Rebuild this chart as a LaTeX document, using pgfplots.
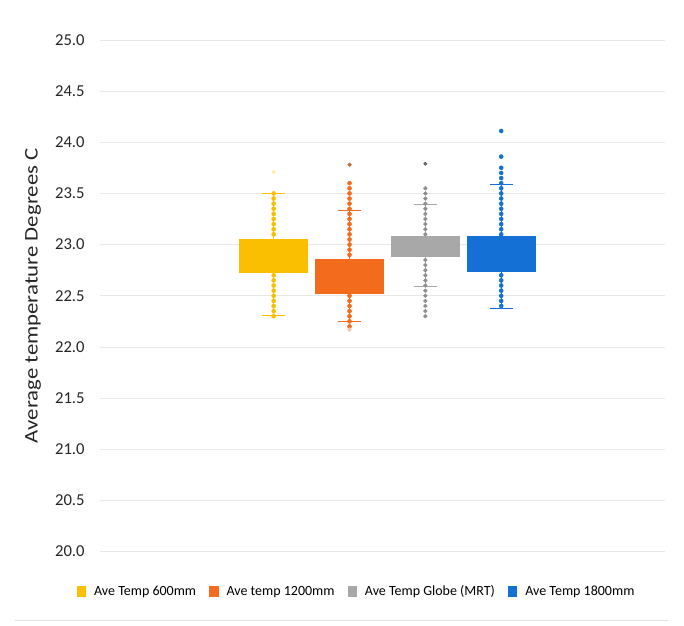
\documentclass[border=0pt]{standalone}
\usepackage{pgfplots}
\pgfplotsset{compat=1.18}
\usepgfplotslibrary{statistics}
\usepackage{fontspec}
\setmainfont{Carlito}
\newfontfamily\widefont[FakeStretch=1.18]{Carlito}
\definecolor{cY}{HTML}{FAC000}
\definecolor{cO}{HTML}{F36C1E}
\definecolor{cG}{HTML}{A8A8A8}
\definecolor{cB}{HTML}{1570D6}
\begin{document}
\begin{tikzpicture}
\begin{axis}[
  scale only axis, width=424pt, height=384pt,
  xmin=-1.29, xmax=6.16, ymin=20, ymax=25,
  ytick={20,20.5,...,25.01},
  yticklabel style={/pgf/number format/fixed, /pgf/number format/fixed zerofill, /pgf/number format/precision=1, xshift=-8pt},
  /pgf/number format/assume math mode=true,
  xtick=\empty,
  axis line style={draw=none},
  major tick length=0pt,
  ymajorgrids, grid style={gray!18, line width=0.6pt},
  tick label style={font=\fontsize{12.5}{14}\selectfont, text=black!85},
  ylabel={Average temperature Degrees C},
  ylabel style={font=\widefont\fontsize{14.5}{16}\selectfont, text=black!85, at={(rel axis cs:-0.1186,0.5)}, anchor=center},
  clip=false,
  legend style={at={(0.455,-0.078)}, anchor=center, draw=none, legend columns=4,
    font=\fontsize{10.5}{12}\selectfont, inner sep=0pt,
    /tikz/every odd column/.append style={column sep=4pt},
    /tikz/every even column/.append style={column sep=8pt}},
  legend image code/.code={\fill[#1] (0pt,-4pt) rectangle (6pt,4pt);},
  boxplot/draw direction=y,
  boxplot/box extend=0.9,
  boxplot/whisker extend=0.3,
]
\path (rel axis cs:-0.177,-0.1445) rectangle (rel axis cs:1.0336,1.078);
\draw[gray!25, line width=0.8pt] (rel axis cs:-0.150,-0.135) -- (rel axis cs:1.005,-0.135);
\addplot[fill=cY, draw=cY, line width=0.8pt, boxplot prepared={draw position=1, lower whisker=22.31, lower quartile=22.73, median=22.9, upper quartile=23.05, upper whisker=23.50}] coordinates {};
\addlegendentry{Ave Temp 600mm}
\addplot[fill=cO, draw=cO, line width=0.8pt, boxplot prepared={draw position=2, lower whisker=22.25, lower quartile=22.52, median=22.7, upper quartile=22.85, upper whisker=23.33}] coordinates {};
\addlegendentry{Ave temp 1200mm}
\addplot[fill=cG, draw=cG, line width=0.8pt, boxplot prepared={draw position=3, lower whisker=22.59, lower quartile=22.88, median=23.0, upper quartile=23.08, upper whisker=23.39}] coordinates {};
\addlegendentry{Ave Temp Globe (MRT)}
\addplot[fill=cB, draw=cB, line width=0.8pt, boxplot prepared={draw position=4, lower whisker=22.38, lower quartile=22.74, median=22.9, upper quartile=23.08, upper whisker=23.59}] coordinates {};
\addlegendentry{Ave Temp 1800mm}
% data points
\addplot[only marks, mark=*, mark size=1.5pt, cY, forget plot] coordinates {
(1,23.10)(1,23.15)(1,23.20)(1,23.25)(1,23.30)(1,23.35)(1,23.40)(1,23.45)(1,23.50)
(1,22.30)(1,22.35)(1,22.40)(1,22.45)(1,22.50)(1,22.55)(1,22.60)(1,22.65)(1,22.70)};
\addplot[only marks, mark=*, mark size=1.4pt, cY!35, forget plot] coordinates {(1,23.71)};
\addplot[only marks, mark=*, mark size=1.5pt, cO, forget plot] coordinates {
(2,22.90)(2,22.95)(2,23.00)(2,23.05)(2,23.10)(2,23.15)(2,23.20)(2,23.25)(2,23.30)(2,23.35)(2,23.40)(2,23.45)(2,23.50)(2,23.55)(2,23.60)
(2,22.20)(2,22.25)(2,22.30)(2,22.35)(2,22.40)(2,22.45)(2,22.50)};
\addplot[only marks, mark=*, mark size=1.4pt, cO!70!black!80, forget plot] coordinates {(2,23.78)};
\addplot[only marks, mark=*, mark size=1.4pt, cO!40, forget plot] coordinates {(2,22.17)};
\addplot[only marks, mark=*, mark size=1.4pt, cG!85!black, forget plot] coordinates {
(3,23.10)(3,23.15)(3,23.20)(3,23.25)(3,23.30)(3,23.35)(3,23.40)(3,23.45)(3,23.50)(3,23.55)
(3,22.30)(3,22.35)(3,22.40)(3,22.45)(3,22.50)(3,22.55)(3,22.60)(3,22.65)(3,22.70)(3,22.75)(3,22.80)(3,22.85)};
\addplot[only marks, mark=*, mark size=1.3pt, gray!80!black, forget plot] coordinates {(3,23.79)};
\addplot[only marks, mark=*, mark size=1.5pt, cB, forget plot] coordinates {
(4,23.10)(4,23.15)(4,23.20)(4,23.25)(4,23.30)(4,23.35)(4,23.40)(4,23.45)(4,23.50)(4,23.55)(4,23.60)(4,23.65)(4,23.70)(4,23.75)(4,23.86)(4,24.11)
(4,22.40)(4,22.45)(4,22.50)(4,22.55)(4,22.60)(4,22.65)(4,22.70)};
\end{axis}
\end{tikzpicture}
\end{document}
